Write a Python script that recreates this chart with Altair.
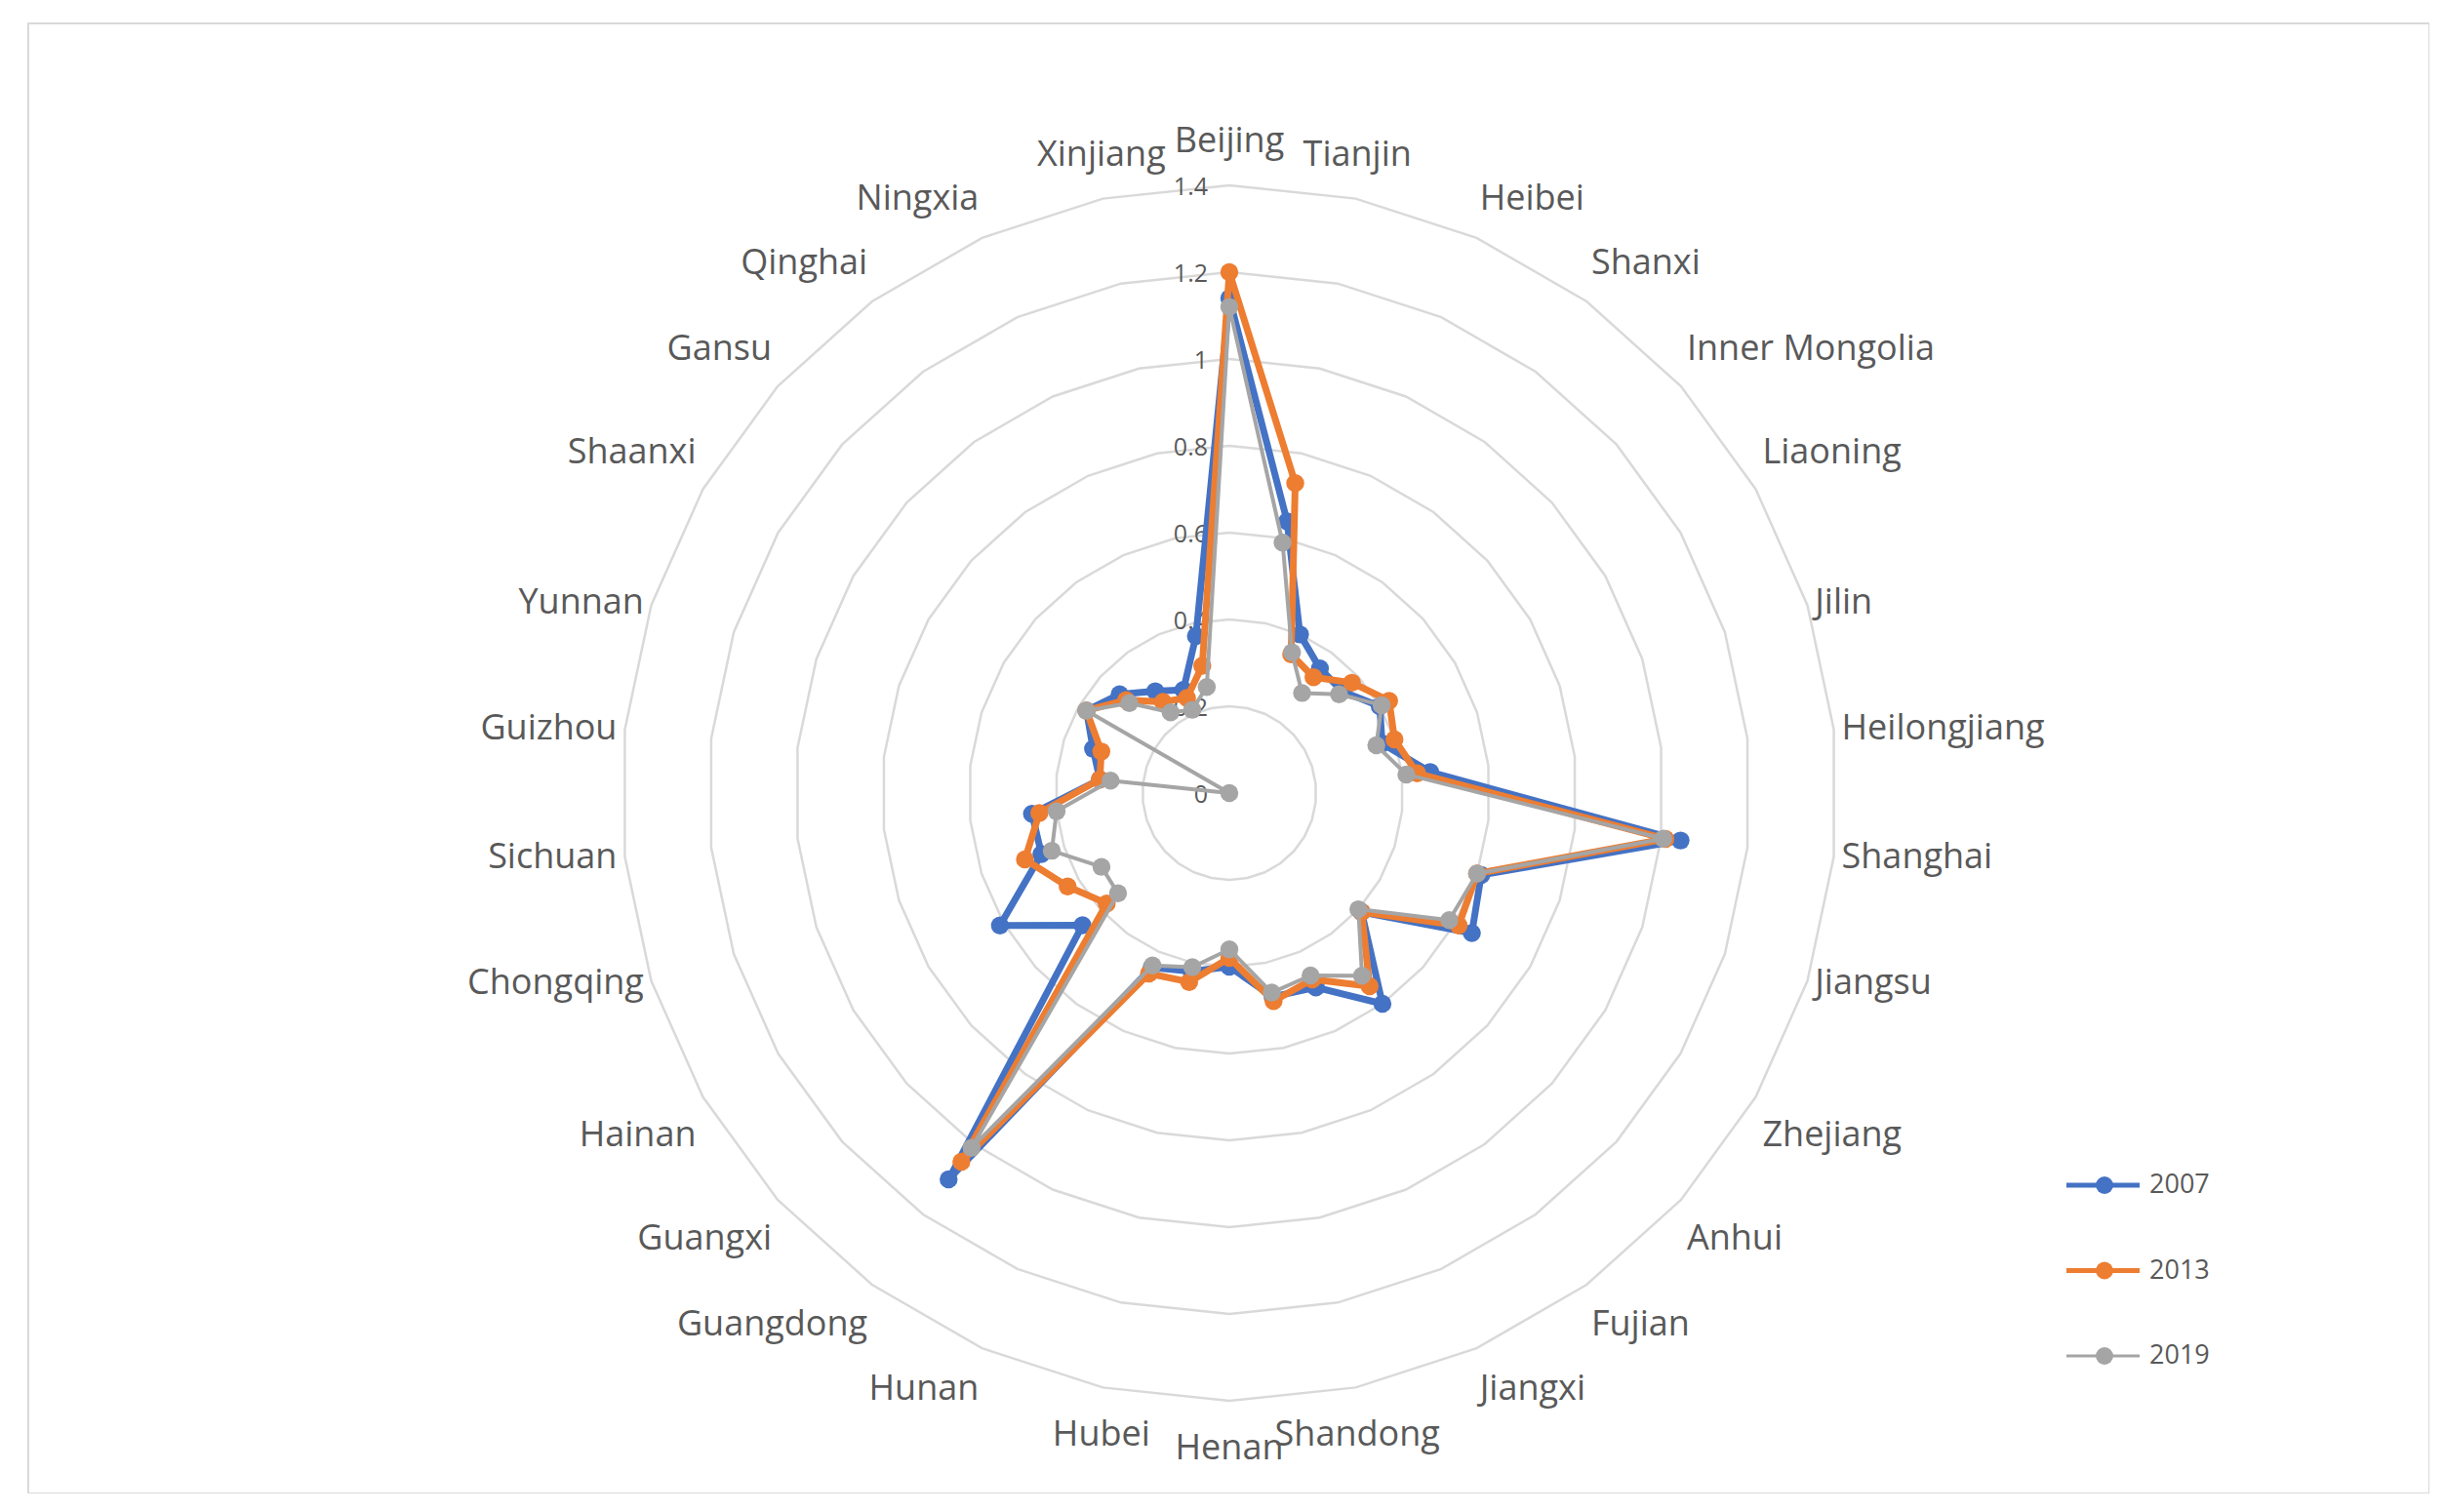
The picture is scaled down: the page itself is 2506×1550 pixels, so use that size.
import altair as alt
import pandas as pd

# ---------------- data ----------------
provinces = ["Beijing", "Tianjin", "Heibei", "Shanxi", "Inner Mongolia", "Liaoning", "Jilin",
             "Heilongjiang", "Shanghai", "Jiangsu", "Zhejiang", "Anhui", "Fujian", "Jiangxi",
             "Shandong", "Henan", "Hubei", "Hunan", "Guangdong", "Guangxi", "Hainan", "Chongqing",
             "Sichuan", "Guizhou", "Yunnan", "Shaanxi", "Gansu", "Qinghai", "Ningxia", "Xinjiang"]
v2007 = [1.14, 0.64, 0.40, 0.355, 0.35, 0.40, 0.37, 0.465, 1.045, 0.61, 0.645, 0.41, 0.60, 0.49,
         0.48, 0.40, 0.42, 0.44, 1.10, 0.455, 0.61, 0.455, 0.457, 0.30, 0.33, 0.38, 0.34, 0.29,
         0.26, 0.37]
v2013 = [1.20, 0.73, 0.35, 0.33, 0.38, 0.425, 0.40, 0.435, 1.01, 0.60, 0.61, 0.41, 0.55, 0.47,
         0.49, 0.38, 0.445, 0.455, 1.05, 0.38, 0.43, 0.495, 0.44, 0.30, 0.31, 0.38, 0.32, 0.26,
         0.24, 0.30]
v2019 = [1.12, 0.59, 0.355, 0.285, 0.34, 0.405, 0.356, 0.41, 1.005, 0.60, 0.585, 0.40, 0.52, 0.46,
         0.47, 0.36, 0.41, 0.435, 1.01, 0.345, 0.34, 0.43, 0.40, 0.275, 0.0, 0.38, 0.31, 0.23,
         0.21, 0.25]
years = ["2007", "2013", "2019"]
tick_values = [0, 0.2, 0.4, 0.6, 0.8, 1.0, 1.2, 1.4]
tick_labels = ["0", "0.2", "0.4", "0.6", "0.8", "1", "1.2", "1.4"]
grid_levels = [0.2, 0.4, 0.6, 0.8, 1.0, 1.2, 1.4]

colors = ["#4472C4", "#ED7D31", "#A5A5A5"]
widths = [7, 7, 4]
N = len(provinces)

# ---------------- geometry (pixels) ----------------
W, H = 2461, 1507          # plot area = chart frame
CX, CY = 1231, 789         # centre inside the plot area
UNIT = 445                 # pixels per unit value
xdom = [-CX / UNIT, (W - CX) / UNIT]
ydom = [-(H - CY) / UNIT, CY / UNIT]
xs = alt.Scale(domain=xdom, nice=False, zero=False)
ys = alt.Scale(domain=ydom, nice=False, zero=False)
ANG = f"2*PI/{N}"
LABEL_R = 1.418

# ---------------- tables ----------------
series_rows = []
for yr, vals in zip(years, [v2007, v2013, v2019]):
    for i in range(N + 1):
        series_rows.append({"series": yr, "idx": i, "province": provinces[i % N],
                            "value": vals[i % N]})
sdf = pd.DataFrame(series_rows)

grid_rows = [{"level": lv, "idx": i} for lv in grid_levels for i in range(N + 1)]
gdf = pd.DataFrame(grid_rows)

cdf = pd.DataFrame({"province": provinces, "idx": list(range(N))})
tdf = pd.DataFrame({"value": tick_values, "label": tick_labels})
ldf = pd.DataFrame({"series": years, "rank": list(range(len(years)))})

# ---------------- layers ----------------
grid = alt.Chart(gdf).transform_calculate(
    px=f"datum.level*sin(datum.idx*{ANG})",
    py=f"datum.level*cos(datum.idx*{ANG})",
).mark_line(stroke="#D9D9D9", strokeWidth=2.5).encode(
    x=alt.X("px:Q", scale=xs, axis=None),
    y=alt.Y("py:Q", scale=ys, axis=None),
    detail="level:N",
    order="idx:Q",
)

ticks = alt.Chart(tdf).transform_calculate(px="0").mark_text(
    align="right", baseline="middle", dx=-22, dy=2, fontSize=25, font="Open Sans",
    color="#595959"
).encode(
    x=alt.X("px:Q", scale=xs, axis=None),
    y=alt.Y("value:Q", scale=ys, axis=None),
    text="label:N",
)

label_layers = []
base_lab = alt.Chart(cdf).transform_calculate(
    s=f"sin(datum.idx*{ANG})",
    c=f"cos(datum.idx*{ANG})",
).transform_calculate(
    px=f"{LABEL_R}*datum.s",
    py=f"{LABEL_R}*datum.c",
    h="datum.s > 0.3 ? 'left' : (datum.s < -0.3 ? 'right' : 'center')",
    v="datum.c > 0.45 ? 'bottom' : (datum.c < -0.45 ? 'top' : 'middle')",
)
for h in ["left", "center", "right"]:
    for v in ["bottom", "middle", "top"]:
        if v == "middle":
            dy = 0
        elif h == "center":
            dy = -37 if v == "bottom" else 41
        else:
            dy = -33 if v == "bottom" else 35
        label_layers.append(
            base_lab.transform_filter(f"datum.h == '{h}' && datum.v == '{v}'").mark_text(
                align=h, baseline="middle", dy=dy, fontSize=36, font="Open Sans",
                color="#595959"
            ).encode(
                x=alt.X("px:Q", scale=xs, axis=None),
                y=alt.Y("py:Q", scale=ys, axis=None),
                text="province:N",
            )
        )

color_scale = alt.Scale(domain=years, range=colors)
series_layers = []
for yr, col, w in zip(years, colors, widths):
    base = alt.Chart(sdf).transform_filter(f"datum.series == '{yr}'").transform_calculate(
        px=f"datum.value*sin(datum.idx*{ANG})",
        py=f"datum.value*cos(datum.idx*{ANG})",
    )
    enc = dict(
        x=alt.X("px:Q", scale=xs, axis=None),
        y=alt.Y("py:Q", scale=ys, axis=None),
        color=alt.Color("series:N", scale=color_scale, legend=None),
    )
    series_layers.append(base.mark_line(strokeWidth=w, strokeJoin="round").encode(
        order="idx:Q", **enc))
    series_layers.append(base.transform_filter(f"datum.idx < {N}").mark_point(
        filled=True, size=340, opacity=1).encode(**enc))

main = alt.layer(grid, ticks, *label_layers, *series_layers)

# ---------------- legend ----------------
ly = alt.Y("rank:Q", scale=alt.Scale(domain=[0, 2], range=[1191, 1366]), axis=None)
lc = alt.Color("series:N", scale=color_scale, legend=None)
leg_base = alt.Chart(ldf)
leg_lines = [
    leg_base.transform_filter(f"datum.series == '{yr}'").mark_rule(strokeWidth=w).encode(
        x=alt.value(2089), x2=alt.value(2164), y=ly, color=lc)
    for yr, w in zip(years, [5, 5, 3])
]
leg_pts = leg_base.mark_point(filled=True, size=320, opacity=1).encode(
    x=alt.value(2128), y=ly, color=lc)
leg_txt = leg_base.mark_text(align="left", baseline="middle", fontSize=27, font="Open Sans",
                             color="#595959").encode(
    x=alt.value(2174), y=ly, text="series:N")
legend = alt.layer(*leg_lines, leg_pts, leg_txt)

chart = alt.layer(main, legend).resolve_scale(y="independent").properties(
    width=W, height=H,
    padding={"left": 21, "top": 16, "right": 0, "bottom": 0},
    background="white",
).configure_view(stroke="#D9D9D9", strokeWidth=2)

chart.save("out.html", embed_options={"renderer": "svg", "actions": False})
